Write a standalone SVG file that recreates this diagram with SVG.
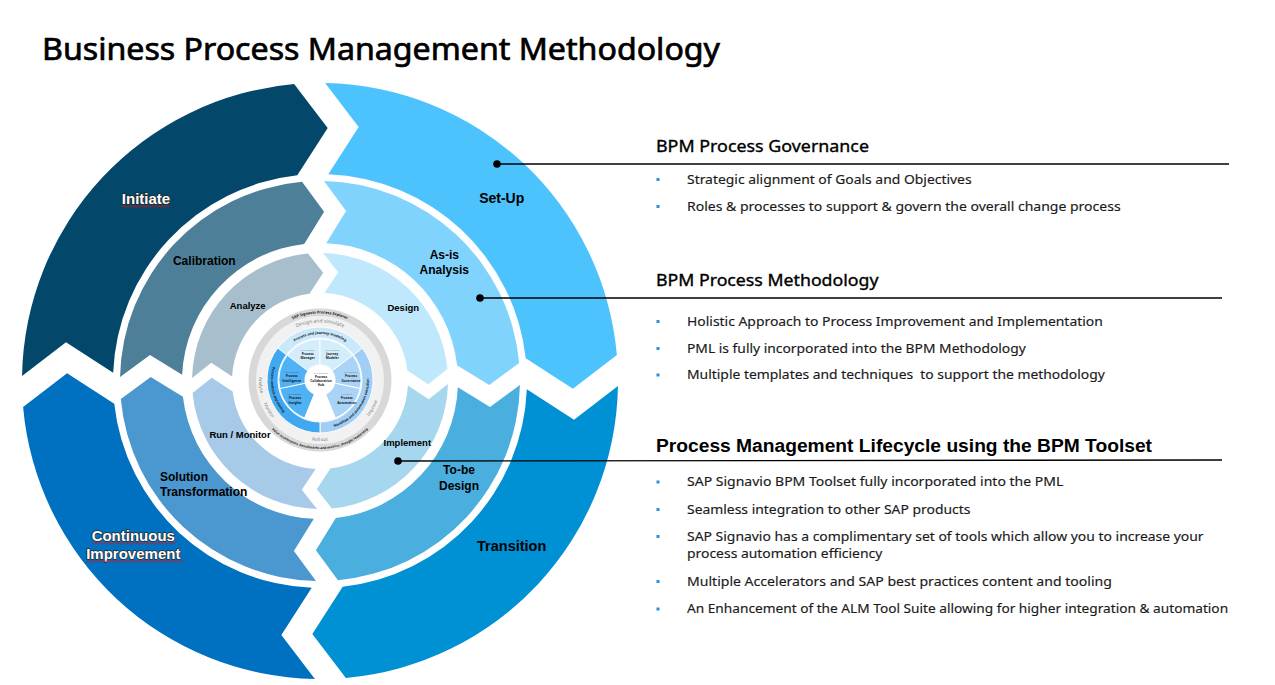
<svg xmlns="http://www.w3.org/2000/svg" width="1275" height="685" viewBox="0 0 1275 685">
<style>
.lbl{font-family:"Liberation Sans",Arial,sans-serif;font-weight:bold;fill:#000;text-anchor:middle}
.wlbl{font-family:"Liberation Sans",Arial,sans-serif;font-weight:bold;fill:#fff;stroke:#2a2a2a;stroke-width:1.4;paint-order:stroke;stroke-linejoin:round;text-anchor:middle}
.h{font-family:"Noto Sans",sans-serif;font-size:16.5px;fill:#000;stroke:#000;stroke-width:0.35}
.h3{font-family:"Liberation Sans",Arial,sans-serif;font-weight:bold;font-size:18px;fill:#000}
.b{font-family:"Noto Sans",sans-serif;font-size:13px;fill:#1a1a1a;stroke:#1a1a1a;stroke-width:0.15}
.bul{fill:#2a8fe0}
.conn{stroke:#000;stroke-width:1.3;fill:none}
.dot{fill:#000}
.squig{fill:none;stroke:#E01010;stroke-width:0.9}
.tiny{font-family:"Noto Sans",sans-serif;font-weight:bold;fill:#1a1a1a;text-anchor:middle}
.sub{font-family:"Noto Sans",sans-serif;fill:#808080;text-anchor:middle}
.wsep{stroke:#fff;stroke-width:0.9}
</style>
<defs>
<path id="segO" d="M-297.60,-15.5 A298,298 0 0 1 -15.5,-297.60 L16.5,-252.5 L-15.5,-206.42 A207,207 0 0 0 -206.42,-15.5 L-252.5,-47.5 Z"/>
<path id="segM" d="M-199.70,-11 A200,200 0 0 1 -11,-199.70 L10,-169 L-11,-137.56 A138,138 0 0 0 -137.56,-11 L-169,-32 Z"/>
<path id="segI" d="M-127.78,-7.5 A128,128 0 0 1 -7.5,-127.78 L7,-108 L-7.5,-87.68 A88,88 0 0 0 -87.68,-7.5 L-108,-22 Z"/>
<path id="tpExplorer" d="M257.51,357.26 A66.5,66.5 0 0 1 382.49,357.26"/>
<path id="tpValue" d="M255.16,403.60 A69,69 0 0 0 384.84,403.60"/>
<path id="tpDesign" d="M275.95,343.04 A57.5,57.5 0 0 1 364.05,343.04"/>
<path id="tpLight" d="M262.68,359.14 A61,61 0 1 0 377.32,359.14"/>
<path id="tpJourney" d="M287.47,347.47 A46,46 0 0 1 352.53,347.47"/>
<path id="tpMining" d="M279.86,351.89 A49,49 0 0 0 315.73,428.81"/>
<path id="tpWorkflow" d="M324.27,428.81 A49,49 0 0 0 360.14,351.89"/>
</defs>
<rect width="1275" height="685" fill="#fff"/>

<text x="42" y="60" font-family="Noto Sans, sans-serif" font-size="31" fill="#000" stroke="#000" stroke-width="0.7" textLength="678" lengthAdjust="spacingAndGlyphs">Business Process Management Methodology</text>

<!-- outer ring -->
<g id="initiate">
<use href="#segO" transform="translate(320 381) rotate(-2)" fill="#03486B"/>
<text class="wlbl" x="146" y="203.7" font-size="15">Initiate</text>
<path class="squig" d="M121.5,207 l1.5,-1.4 1.5,1.4 1.5,-1.4 1.5,1.4 1.5,-1.4 1.5,1.4 1.5,-1.4 1.5,1.4 1.5,-1.4 1.5,1.4 1.5,-1.4 1.5,1.4 1.5,-1.4 1.5,1.4 1.5,-1.4 1.5,1.4 1.5,-1.4 1.5,1.4 1.5,-1.4 1.5,1.4 1.5,-1.4 1.5,1.4 1.5,-1.4 1.5,1.4 1.5,-1.4 1.5,1.4 1.5,-1.4 1.5,1.4 1.5,-1.4 1.5,1.4 1.5,-1.4 1.5,1.4"/>
</g>
<g id="setup">
<use href="#segO" transform="translate(320 381) rotate(88)" fill="#4DC3FE"/>
<text class="lbl" x="501.7" y="202.7" font-size="14">Set-Up</text>
</g>
<g id="transition">
<use href="#segO" transform="translate(320 381) rotate(178)" fill="#0090D4"/>
<text class="lbl" x="511.7" y="550.9" font-size="14.5">Transition</text>
</g>
<g id="continuous-improvement">
<use href="#segO" transform="translate(320 381) rotate(268)" fill="#0070C0"/>
<text class="wlbl" x="133.3" y="541" font-size="15">Continuous</text>
<text class="wlbl" x="133.3" y="558.6" font-size="15">Improvement</text>
<path class="squig" d="M91.7,544 l1.5,-1.4 1.5,1.4 1.5,-1.4 1.5,1.4 1.5,-1.4 1.5,1.4 1.5,-1.4 1.5,1.4 1.5,-1.4 1.5,1.4 1.5,-1.4 1.5,1.4 1.5,-1.4 1.5,1.4 1.5,-1.4 1.5,1.4 1.5,-1.4 1.5,1.4 1.5,-1.4 1.5,1.4 1.5,-1.4 1.5,1.4 1.5,-1.4 1.5,1.4 1.5,-1.4 1.5,1.4 1.5,-1.4 1.5,1.4 1.5,-1.4 1.5,1.4 1.5,-1.4 1.5,1.4 1.5,-1.4 1.5,1.4 1.5,-1.4 1.5,1.4 1.5,-1.4 1.5,1.4 1.5,-1.4 1.5,1.4 1.5,-1.4 1.5,1.4 1.5,-1.4 1.5,1.4 1.5,-1.4 1.5,1.4 1.5,-1.4 1.5,1.4 1.5,-1.4 1.5,1.4 1.5,-1.4 1.5,1.4 1.5,-1.4 1.5,1.4 1.5,-1.4 1.5,1.4"/>
<path class="squig" d="M86.7,562 l1.5,-1.4 1.5,1.4 1.5,-1.4 1.5,1.4 1.5,-1.4 1.5,1.4 1.5,-1.4 1.5,1.4 1.5,-1.4 1.5,1.4 1.5,-1.4 1.5,1.4 1.5,-1.4 1.5,1.4 1.5,-1.4 1.5,1.4 1.5,-1.4 1.5,1.4 1.5,-1.4 1.5,1.4 1.5,-1.4 1.5,1.4 1.5,-1.4 1.5,1.4 1.5,-1.4 1.5,1.4 1.5,-1.4 1.5,1.4 1.5,-1.4 1.5,1.4 1.5,-1.4 1.5,1.4 1.5,-1.4 1.5,1.4 1.5,-1.4 1.5,1.4 1.5,-1.4 1.5,1.4 1.5,-1.4 1.5,1.4 1.5,-1.4 1.5,1.4 1.5,-1.4 1.5,1.4 1.5,-1.4 1.5,1.4 1.5,-1.4 1.5,1.4 1.5,-1.4 1.5,1.4 1.5,-1.4 1.5,1.4 1.5,-1.4 1.5,1.4 1.5,-1.4 1.5,1.4 1.5,-1.4 1.5,1.4 1.5,-1.4 1.5,1.4 1.5,-1.4 1.5,1.4 1.5,-1.4 1.5,1.4"/>
</g>

<!-- middle ring -->
<g id="calibration">
<use href="#segM" transform="translate(320 381) rotate(-2)" fill="#4E7F98"/>
<text class="lbl" x="204.3" y="265.3" font-size="12">Calibration</text>
</g>
<g id="as-is-analysis">
<use href="#segM" transform="translate(320 381) rotate(88)" fill="#80D3FD"/>
<text class="lbl" x="444.3" y="259.3" font-size="12">As-is</text>
<text class="lbl" x="444.3" y="273.5" font-size="12">Analysis</text>
</g>
<g id="to-be-design">
<use href="#segM" transform="translate(320 381) rotate(178)" fill="#4AAEDF"/>
<text class="lbl" x="459" y="474.3" font-size="12">To-be</text>
<text class="lbl" x="459" y="489.5" font-size="12">Design</text>
</g>
<g id="solution-transformation">
<use href="#segM" transform="translate(320 381) rotate(268)" fill="#4B98D0"/>
<text class="lbl" x="160" y="481" font-size="12" style="text-anchor:start">Solution</text>
<text class="lbl" x="160" y="496" font-size="12" style="text-anchor:start">Transformation</text>
</g>

<!-- inner ring -->
<g id="analyze">
<use href="#segI" transform="translate(320 381) rotate(-2)" fill="#A7BFCC"/>
<text class="lbl" x="247.7" y="308.5" font-size="9.5">Analyze</text>
</g>
<g id="design">
<use href="#segI" transform="translate(320 381) rotate(88)" fill="#BFE8FD"/>
<text class="lbl" x="403.3" y="310.8" font-size="9.5">Design</text>
</g>
<g id="implement">
<use href="#segI" transform="translate(320 381) rotate(178)" fill="#A7D7EF"/>
<text class="lbl" x="407.3" y="445.6" font-size="9.5">Implement</text>
</g>
<g id="run-monitor">
<use href="#segI" transform="translate(320 381) rotate(268)" fill="#A6CAE8"/>
<text class="lbl" x="240" y="438.4" font-size="9.5">Run / Monitor</text>
</g>

<!-- centre: SAP Signavio Process Explorer -->
<g id="process-explorer">
<circle cx="320" cy="380" r="71.5" fill="#D8D8D8"/>
<circle cx="320" cy="380" r="64" fill="#F1F1F1"/>
<text class="tiny" font-size="3.8"><textPath href="#tpExplorer" startOffset="50%">SAP Signavio Process Explorer</textPath></text>
<text class="tiny" font-size="3.3"><textPath href="#tpValue" startOffset="50%">Value accelerators, benchmarks and metrics, thought leadership</textPath></text>
<text class="sub" font-size="5"><textPath href="#tpDesign" startOffset="50%">Design and simulate</textPath></text>
<text class="sub" font-size="4.5"><textPath href="#tpLight" startOffset="11.4%">Analyze</textPath></text>
<text class="sub" font-size="4.5"><textPath href="#tpLight" startOffset="23%">Monitor</textPath></text>
<text class="sub" font-size="4.5"><textPath href="#tpLight" startOffset="50%">Roll out</textPath></text>
<text class="sub" font-size="4.5"><textPath href="#tpLight" startOffset="78%">Improve</textPath></text>
<path class="wsep" fill="#C9E8F9" d="M277.67,348.10 A53,53 0 0 1 362.33,348.10 L353.54,354.72 A42,42 0 0 0 286.46,354.72 Z"/>
<path class="wsep" fill="#A0CEF4" d="M362.33,348.10 A53,53 0 0 1 320,433 L320,422 A42,42 0 0 0 353.54,354.72 Z"/>
<path class="wsep" fill="#3FA8F0" d="M320,433 A53,53 0 0 1 277.67,348.10 L286.46,354.72 A42,42 0 0 0 320,422 Z"/>
<path class="wsep" fill="#D4EDFB" d="M320,380 L287.26,355.33 A41,41 0 0 1 320,339 Z"/>
<path class="wsep" fill="#D4EDFB" d="M320,380 L320,339 A41,41 0 0 1 352.74,355.33 Z"/>
<path class="wsep" fill="#AAD4F7" d="M320,380 L352.74,355.33 A41,41 0 0 1 360.10,388.52 Z"/>
<path class="wsep" fill="#AAD4F7" d="M320,380 L360.10,388.52 A41,41 0 0 1 335.36,418.02 Z"/>
<path class="wsep" fill="#50B2F5" d="M320,380 L304.64,418.02 A41,41 0 0 1 279.90,388.52 Z"/>
<path class="wsep" fill="#50B2F5" d="M320,380 L279.90,388.52 A41,41 0 0 1 287.26,355.33 Z"/>
<path fill="#fff" d="M320,380 L335.36,418.02 A41,41 0 0 1 304.64,418.02 Z"/>
<circle cx="320" cy="380" r="15.5" fill="#fff"/>
<text class="tiny" font-size="3.6"><textPath href="#tpJourney" startOffset="50%">Process and journey modeling</textPath></text>
<text class="tiny" font-size="3.5"><textPath href="#tpMining" startOffset="40%">Process analysis and mining</textPath></text>
<text class="tiny" font-size="3.5"><textPath href="#tpWorkflow" startOffset="41%">Workflow and automation execution</textPath></text>
<text class="sub" font-size="2.3" x="307.7" y="350.5">SAP Signavio</text>
<text class="tiny" font-size="3.2" x="307.7" y="355">Process</text>
<text class="tiny" font-size="3.2" x="307.7" y="359.4">Manager</text>
<text class="sub" font-size="2.3" x="332.3" y="350.5">SAP Signavio</text>
<text class="tiny" font-size="3.2" x="332.3" y="355">Journey</text>
<text class="tiny" font-size="3.2" x="332.3" y="359.4">Modeler</text>
<text class="sub" font-size="2.3" x="291.7" y="372.8" style="fill:#3d5a80">SAP Signavio</text>
<text class="tiny" font-size="3.2" x="291.7" y="377.3">Process</text>
<text class="tiny" font-size="3.2" x="291.7" y="381.8">Intelligence</text>
<text class="sub" font-size="2.3" x="351" y="372.8">SAP Signavio</text>
<text class="tiny" font-size="3.2" x="351" y="377.3">Process</text>
<text class="tiny" font-size="3.2" x="351" y="381.8">Governance</text>
<text class="sub" font-size="2.3" x="295" y="394.6" style="fill:#3d5a80">SAP Signavio</text>
<text class="tiny" font-size="3.2" x="295" y="399.1">Process</text>
<text class="tiny" font-size="3.2" x="295" y="403.6">Insights</text>
<text class="sub" font-size="2.3" x="346.7" y="394.6">SAP Build</text>
<text class="tiny" font-size="3.2" x="346.7" y="399.1">Process</text>
<text class="tiny" font-size="3.2" x="346.7" y="403.6">Automation</text>
<text class="sub" font-size="2.3" x="321" y="373.8">SAP Signavio</text>
<text class="tiny" font-size="3.2" x="321" y="377.7">Process</text>
<text class="tiny" font-size="3.2" x="321" y="381.7">Collaboration</text>
<text class="tiny" font-size="3.2" x="321" y="385.7">Hub</text>
</g>

<!-- connectors -->
<g id="connectors">
<line class="conn" x1="497" y1="164" x2="1229" y2="164"/>
<circle class="dot" cx="497" cy="164" r="3.8"/>
<line class="conn" x1="480" y1="298" x2="1222" y2="298"/>
<circle class="dot" cx="480" cy="298" r="3.8"/>
<line class="conn" x1="398" y1="461" x2="1222" y2="460"/>
<circle class="dot" cx="398" cy="461" r="3.8"/>
</g>

<!-- right-hand text -->
<g id="governance">
<text class="h" x="656" y="152" textLength="213" lengthAdjust="spacingAndGlyphs">BPM Process Governance</text>
<rect class="bul" x="656.5" y="178" width="3" height="3"/>
<text class="b" x="687" y="183.5" textLength="284.6" lengthAdjust="spacingAndGlyphs">Strategic alignment of Goals and Objectives</text>
<rect class="bul" x="656.5" y="205" width="3" height="3"/>
<text class="b" x="687" y="210.5" textLength="433.6" lengthAdjust="spacingAndGlyphs">Roles &amp; processes to support &amp; govern the overall change process</text>
</g>
<g id="methodology">
<text class="h" x="656" y="285.5" textLength="222.5" lengthAdjust="spacingAndGlyphs">BPM Process Methodology</text>
<rect class="bul" x="656.5" y="320" width="3" height="3"/>
<text class="b" x="687" y="325.5" textLength="415.8" lengthAdjust="spacingAndGlyphs">Holistic Approach to Process Improvement and Implementation</text>
<rect class="bul" x="656.5" y="347" width="3" height="3"/>
<text class="b" x="687" y="352.5" textLength="338.8" lengthAdjust="spacingAndGlyphs">PML is fully incorporated into the BPM Methodology</text>
<rect class="bul" x="656.5" y="373.5" width="3" height="3"/>
<text class="b" x="687" y="379" textLength="417.8" lengthAdjust="spacingAndGlyphs" xml:space="preserve">Multiple templates and techniques  to support the methodology</text>
</g>
<g id="lifecycle">
<text class="h3" x="656" y="452" textLength="496" lengthAdjust="spacingAndGlyphs">Process Management Lifecycle using the BPM Toolset</text>
<rect class="bul" x="656.5" y="480.5" width="3" height="3"/>
<text class="b" x="687" y="486" textLength="376.3" lengthAdjust="spacingAndGlyphs">SAP Signavio BPM Toolset fully incorporated into the PML</text>
<rect class="bul" x="656.5" y="508" width="3" height="3"/>
<text class="b" x="687" y="513.5" textLength="283.4" lengthAdjust="spacingAndGlyphs">Seamless integration to other SAP products</text>
<rect class="bul" x="656.5" y="535" width="3" height="3"/>
<text class="b" x="687" y="540.5" textLength="516.6" lengthAdjust="spacingAndGlyphs">SAP Signavio has a complimentary set of tools which allow you to increase your</text>
<text class="b" x="687" y="558" textLength="195.3" lengthAdjust="spacingAndGlyphs">process automation efficiency</text>
<rect class="bul" x="656.5" y="580" width="3" height="3"/>
<text class="b" x="687" y="585.5" textLength="424.9" lengthAdjust="spacingAndGlyphs">Multiple Accelerators and SAP best practices content and tooling</text>
<rect class="bul" x="656.5" y="607.5" width="3" height="3"/>
<text class="b" x="687" y="613" textLength="541.1" lengthAdjust="spacingAndGlyphs">An Enhancement of the ALM Tool Suite allowing for higher integration &amp; automation</text>
</g>
</svg>
